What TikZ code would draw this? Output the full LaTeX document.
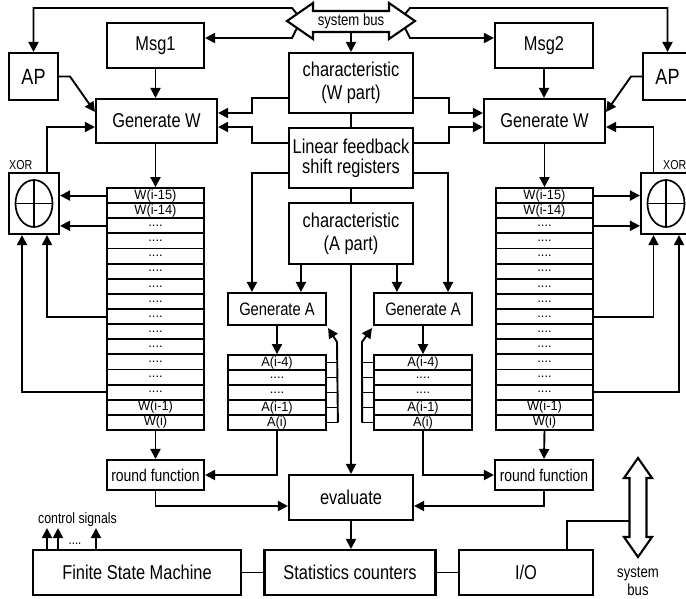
\documentclass[tikz,border=0pt]{standalone}
\usepackage{fontspec}
\setmainfont{Liberation Sans}[FakeStretch=0.82]
\newfontfamily\rowfont{Liberation Sans}[FakeStretch=0.95]
\usetikzlibrary{arrows.meta,calc}
\newcommand\myfs[1]{\fontsize{#1}{#1}\selectfont}
\begin{document}
\begin{tikzpicture}[x=1pt,y=-1pt,
  box/.style={draw, line width=2.1pt, inner sep=0pt, align=center},
  conn/.style={line width=1.9pt},
  arr/.style={line width=1.9pt, -{Triangle[length=10pt,width=10pt]}},
  rowcell/.style={draw, line width=1.8pt, inner sep=0pt, font=\rowfont\fontsize{13.5}{13.5}\selectfont},
]
\useasboundingbox (0,0) rectangle (686,598);
\clip (0,0) rectangle (686,598);

% ---------- boxes ----------
\node[box, minimum width=49pt, minimum height=47pt, font=\myfs{22}] (APL) at (33.5,76.5) {AP};
\node[box, minimum width=49pt, minimum height=47pt, font=\myfs{22}] (APR) at (667.5,76.5) {AP};
\node[box, minimum width=97pt, minimum height=45pt, font=\myfs{20}] (Msg1) at (155.5,45.5) {Msg1};
\node[box, minimum width=98pt, minimum height=45pt, font=\myfs{20}] (Msg2) at (544,45.5) {Msg2};
\node[box, minimum width=121pt, minimum height=44pt, font=\myfs{20}] (GenWL) at (156.5,121) {Generate W};
\node[box, minimum width=121pt, minimum height=44pt, font=\myfs{20}] (GenWR) at (544.5,121) {Generate W};
\node[box, minimum width=124pt, minimum height=60pt, font=\fontsize{20}{23}\selectfont] (CharW) at (351,83) {characteristic\\(W part)};
\node[box, minimum width=124pt, minimum height=60pt, font=\fontsize{20}{20}\selectfont] (LFSR) at (351,158) {Linear feedback\\shift registers};
\node[box, minimum width=124pt, minimum height=61pt, font=\fontsize{20}{23}\selectfont] (CharA) at (351,233.5) {characteristic\\(A part)};
\node[box, minimum width=98pt, minimum height=32pt, font=\myfs{18}] (GenAL) at (277,309) {Generate A};
\node[box, minimum width=98pt, minimum height=32pt, font=\myfs{18}] (GenAR) at (423,309) {Generate A};
\node[box, minimum width=124pt, minimum height=45pt, font=\myfs{20}] (Eval) at (351,497.5) {evaluate};
\node[box, minimum width=171pt, minimum height=45pt, font=\myfs{20}] (Stats) at (350,572.5) {Statistics counters};
\node[box, minimum width=208pt, minimum height=45pt, font=\myfs{20}] (FSM) at (137,572.5) {Finite State Machine};
\node[box, minimum width=134pt, minimum height=45pt, font=\myfs{20}] (IO) at (526,572.5) {I/O};
\node[box, minimum width=97pt, minimum height=30pt, font=\myfs{17}] (RFL) at (155.5,475) {round function};
\node[box, minimum width=98pt, minimum height=30pt, font=\myfs{17}] (RFR) at (544,475) {round function};

% ---------- XOR units ----------
\node[box, minimum width=50pt, minimum height=61pt] (XORL) at (34,203.5) {};
\node[box, minimum width=50pt, minimum height=61pt] (XORR) at (666,203.5) {};
\foreach \n in {XORL,XORR}{
  \draw[line width=1.7pt] (\n.center) ellipse [x radius=18.5, y radius=23.5];
  \draw[line width=1.7pt] ($(\n.center)+(-18.5,0)$) -- ($(\n.center)+(18.5,0)$);
  \draw[line width=1.7pt] ($(\n.center)+(0,-23.5)$) -- ($(\n.center)+(0,23.5)$);
}
\node[font=\myfs{13}, anchor=west, inner sep=0pt] (xorlabL) at (9,165.5) {XOR};
\node[font=\myfs{13}, anchor=west, inner sep=0pt] (xorlabR) at (663,165.5) {XOR};

% ---------- W registers ----------
\foreach \i/\t in {0/{W(i-15)},1/{W(i-14)},2/{....},3/{....},4/{....},5/{....},6/{....},7/{....},8/{....},9/{....},10/{....},11/{....},12/{....},13/{....},14/{W(i-1)},15/{W(i)}}{
  \node[rowcell, minimum width=97pt, minimum height=15.125pt] (WL\i) at (155.5,{188+(\i+0.5)*15.125}) {\t};
  \node[rowcell, minimum width=97pt, minimum height=15.125pt] (WR\i) at (544.5,{188+(\i+0.5)*15.125}) {\t};
}
% ---------- A registers ----------
\foreach \i/\t in {0/{A(i-4)},1/{....},2/{....},3/{A(i-1)},4/{A(i)}}{
  \node[rowcell, minimum width=98pt, minimum height=15pt] (AL\i) at (277,{355+(\i+0.5)*15}) {\t};
  \node[rowcell, minimum width=98pt, minimum height=15pt] (AR\i) at (423,{355+(\i+0.5)*15}) {\t};
}

% ---------- top system bus ----------
\draw[line width=2.1pt, fill=white] (287,21) -- (313,3) -- (313,11) -- (389,11) -- (389,3) -- (415,21) -- (389,39) -- (389,32) -- (313,32) -- (313,39) -- cycle;
\node[font=\myfs{16}, inner sep=0pt] (busT) at (351,21.5) {system bus};
\coordinate (bL1) at (297,14);
\coordinate (bL2) at (297,28);
\coordinate (bR1) at (405,14);
\coordinate (bR2) at (405,28);
\coordinate (bS) at (351,32);
\coordinate (kL) at (292,38);
\coordinate (kR) at (410,38);
\draw[arr] (bL1) -- (292,8) -| (APL.north);
\draw[arr] (bL2) -- (kL) -- (kL -| Msg1.east);
\draw[arr] (bR1) -- (410,8) -| (APR.north);
\draw[arr] (bR2) -- (kR) -- (kR -| Msg2.west);
\draw[arr] (bS) -- (CharW.north);

% ---------- generate W inputs ----------
\draw[arr] (Msg1.south) -- (Msg1.south |- GenWL.north);
\draw[arr] (Msg2.south) -- (Msg2.south |- GenWR.north);
\draw[arr] (APL.east) -- (70,76.5) -- ($(GenWL.west)+(0,-9)$);
\draw[arr] (APR.west) -- (631,76.5) -- ($(GenWR.east)+(0,-9)$);
\draw[arr] ($(CharW.west)+(0,15)$) -- (252,98) |- ($(GenWL.east)+(0,-8)$);
\draw[arr] ($(LFSR.west)+(0,-15)$) -- (252,143) |- ($(GenWL.east)+(0,6)$);
\draw[arr] ($(CharW.east)+(0,15)$) -- (449,98) |- ($(GenWR.west)+(0,-8)$);
\draw[arr] ($(LFSR.east)+(0,-15)$) -- (449,143) |- ($(GenWR.west)+(0,6)$);
\draw[conn] (CharW.south) -- (LFSR.north);
\draw[conn] (LFSR.south) -- (CharA.north);

% ---------- generate A inputs ----------
\draw[arr] ($(LFSR.west)+(0,15)$) -| ($(GenAL.north west)+(25,0)$);
\draw[arr] ($(LFSR.east)+(0,15)$) -| ($(GenAR.north east)+(-25,0)$);
\coordinate (gAL) at ($(GenAL.north west)+(74,0)$);
\coordinate (gAR) at ($(GenAR.north west)+(24,0)$);
\draw[arr] (gAL |- CharA.south) -- (gAL);
\draw[arr] (gAR |- CharA.south) -- (gAR);
\draw[arr] (CharA.south) -- (Eval.north);

% ---------- registers ----------
\draw[arr] (WL0.north |- GenWL.south) -- (WL0.north);
\draw[arr] (WR0.north |- GenWR.south) -- (WR0.north);
\draw[arr] (GenAL.south) -- (AL0.north);
\draw[arr] (GenAR.south) -- (AR0.north);

% A feedback
\foreach \i in {0,...,4}{
  \draw[conn] (AL\i.east) -- ++(11,0);
  \draw[conn] (AR\i.west) -- ++(-11,0);
}
\coordinate (fL) at (337,342);
\coordinate (fR) at (362,342);
\draw[arr] ($(AL4.east)+(11,0)$) -- (fL) -- ($(GenAL.south east)+(1,2)$);
\draw[arr] ($(AR4.west)+(-11,0)$) -- (fR) -- ($(GenAR.south west)+(-1,2)$);

% XOR feedback
\coordinate (xL8) at (47,0);
\coordinate (xL13) at (22,0);
\coordinate (xR8) at (653.5,0);
\coordinate (xR13) at (679,0);
\draw[arr] (WL0.west) -- (WL0.west -| XORL.east);
\draw[arr] (WL2.west) -- (WL2.west -| XORL.east);
\draw[arr] (WL8.west) -| (xL8 |- XORL.south);
\draw[arr] (WL13.west) -| (xL13 |- XORL.south);
\draw[arr] (xL8 |- XORL.north) |- ($(GenWL.west)+(0,6)$);
\draw[arr] (WR0.east) -- (WR0.east -| XORR.west);
\draw[arr] (WR2.east) -- (WR2.east -| XORR.west);
\draw[arr] (WR8.east) -| (xR8 |- XORR.south);
\draw[arr] (WR13.east) -| (xR13 |- XORR.south);
\draw[arr] (xR8 |- XORR.north) |- ($(GenWR.east)+(0,6)$);

% ---------- round functions & evaluate ----------
\draw[arr] (WL15.south) -- (RFL.north);
\draw[arr] (WR15.south) -- (RFR.north);
\draw[arr] (AL4.south) |- (RFL.east);
\draw[arr] (AR4.south) |- (RFR.west);
\draw[arr] (RFL.south) |- ($(Eval.west)+(0,8.5)$);
\draw[arr] (RFR.south) |- ($(Eval.east)+(0,8.5)$);
\draw[arr] (Eval.south) -- (Eval.south |- Stats.north);
\draw[conn] (FSM.east) -- (Stats.west);
\draw[conn] (Stats.east) -- (IO.west);

% ---------- bottom system bus ----------
\draw[line width=2.1pt, fill=white] (638,458) -- (652,478) -- (646.5,478) -- (646.5,537) -- (652,537) -- (638,557) -- (624,537) -- (629.5,537) -- (629.5,478) -- (624,478) -- cycle;
\coordinate (bus2w) at (629.5,521);
\draw[conn] ($(IO.north west)+(109,0)$) |- (bus2w);
\node[font=\fontsize{16}{18}\selectfont, align=center, inner sep=0pt] (busB) at (638,581) {system\\bus};

% ---------- control signals ----------
\node[font=\myfs{15}, inner sep=0pt] (ctl) at (77.5,520) {control signals};
\coordinate (cs1) at (47,528);
\coordinate (cs2) at (58,528);
\coordinate (cs3) at (96,528);
\foreach \c in {cs1,cs2,cs3}{
  \draw[arr] (\c |- FSM.north) -- (\c);
}
\node[font=\myfs{14}, inner sep=0pt] (csdots) at (75,544) {....};
\end{tikzpicture}
\end{document}
